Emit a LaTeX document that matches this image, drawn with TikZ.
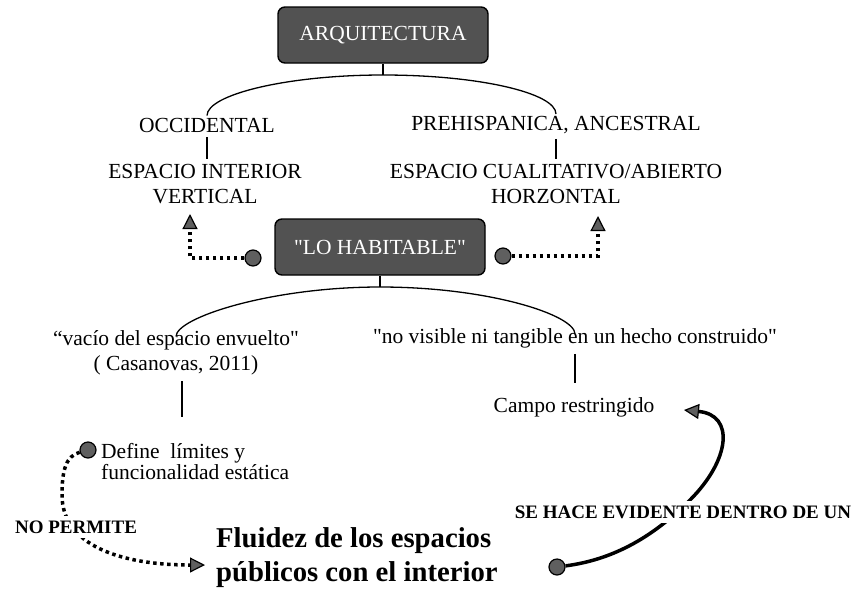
\documentclass[tikz,border=0pt]{standalone}
\usepackage{fontspec}
\setmainfont{Liberation Serif}
\usepackage{tikz}
\usetikzlibrary{shapes, arrows.meta, positioning}
\definecolor{boxgray}{RGB}{82,82,82}
\definecolor{dotgray}{RGB}{95,95,95}

\begin{document}
\begin{tikzpicture}[x=1pt, y=-1pt,
  every node/.style={font=\fontsize{21.5}{25}\selectfont, inner sep=2pt},
  titulo/.style={draw, fill=boxgray, text=white, rounded corners=7pt, line width=1.4pt, minimum width=210pt, minimum height=56pt},
  punto/.style={circle, draw, fill=dotgray, line width=1.2pt, minimum size=16pt, inner sep=0pt},
  rama/.style={line width=1.3pt},
  punteada/.style={line width=3.5pt, dash pattern=on 3.5pt off 3.5pt},
  flecha/.style={-{Triangle[length=15pt, width=15pt, fill=dotgray, line width=1.2pt]}},
  etiqueta/.style={font=\bfseries\fontsize{19}{22}\selectfont, fill=white, inner sep=5pt}]
  \useasboundingbox (0,0) rectangle (857,598);

  \node[titulo] (arq) at (383,35) {ARQUITECTURA};
  \node (occ) at (207,125) {OCCIDENTAL};
  \node (pre) at (556,125) {PREHISPANICA, ANCESTRAL};
  \node[align=center] (espi) at (205,184) {ESPACIO INTERIOR\\VERTICAL};
  \node[align=center] (espc) at (556,184) {ESPACIO CUALITATIVO/ABIERTO\\HORZONTAL};
  \node[titulo] (hab) at (380,247) {\textquotedbl LO HABITABLE\textquotedbl};
  \node[punto] (phi) at (253,258) {};
  \node[punto] (phd) at (503,256) {};

  \node[align=center] (vac) at (176,353) {“vacío del espacio envuelto\textquotedbl\\( Casanovas, 2011)};
  \node (nov) at (575,338) {\textquotedbl no visible ni tangible en un hecho construido\textquotedbl};
  \node (cam) at (574,407) {Campo restringido};
  \node[align=left, anchor=west, font=\fontsize{21.5}{21}\selectfont] (def) at (99,462) {Define\ \ límites y\\funcionalidad estática};
  \node[punto] (pdef) at (88,450) {};
  \node[align=left, anchor=west, font=\bfseries\fontsize{28.7}{34}\selectfont] (flu) at (214,558) {Fluidez de los espacios\\públicos con el interior};
  \node[punto] (pflu) at (557,567) {};

  \coordinate (arqb) at (383,75);
  \coordinate (habb) at (380,287);
  \coordinate (vacb) at (182,417);
  \coordinate (fi) at (190,214);
  \coordinate (fd) at (598,216);
  \coordinate (ff) at (205,565);
  \coordinate (fc) at (684,410);

  % ramas
  \draw[rama] (arq.south) -- (arqb);
  \draw[rama] (occ.north) .. controls +(0,-21) and +(-96,0) .. (arqb) .. controls +(96,0) and +(0,-21) .. (pre.north);
  \draw[rama, shorten <=3pt, shorten >=3pt] (occ.south) -- (occ.south |- espi.north);
  \draw[rama, shorten <=3pt, shorten >=3pt] (pre.south) -- (pre.south |- espc.north);
  \draw[rama] (hab.south) -- (habb);
  \draw[rama] ([yshift=-8pt]vac.north) .. controls +(0,-19) and +(-109,0) .. (habb) .. controls +(109,0) and +(0,-19) .. ([yshift=-8pt]nov.north);
  \draw[rama, shorten <=4pt] (vac.south -| vacb) -- (vacb);
  \draw[rama, shorten <=4pt, shorten >=12pt] (nov.south) -- (nov.south |- cam.north);

  % flechas
  \draw[punteada, flecha] (phi) -| (fi);
  \draw[punteada, flecha] (phd) -| (fd);
  \draw[punteada, flecha] (pdef) .. controls (66,456) and (62,470) .. (62,495) .. controls (62,545) and (120,565) .. (ff);
  \node[etiqueta] (nop) at (76,527) {NO PERMITE};
  \draw[line width=3.5pt, flecha] (pflu) .. controls (610,560) and (650,540) .. (690,500) .. controls (730,460) and (735,415) .. (fc);
  \node[etiqueta] (evi) at (683,512) {SE HACE EVIDENTE DENTRO DE UN};
\end{tikzpicture}
\end{document}
